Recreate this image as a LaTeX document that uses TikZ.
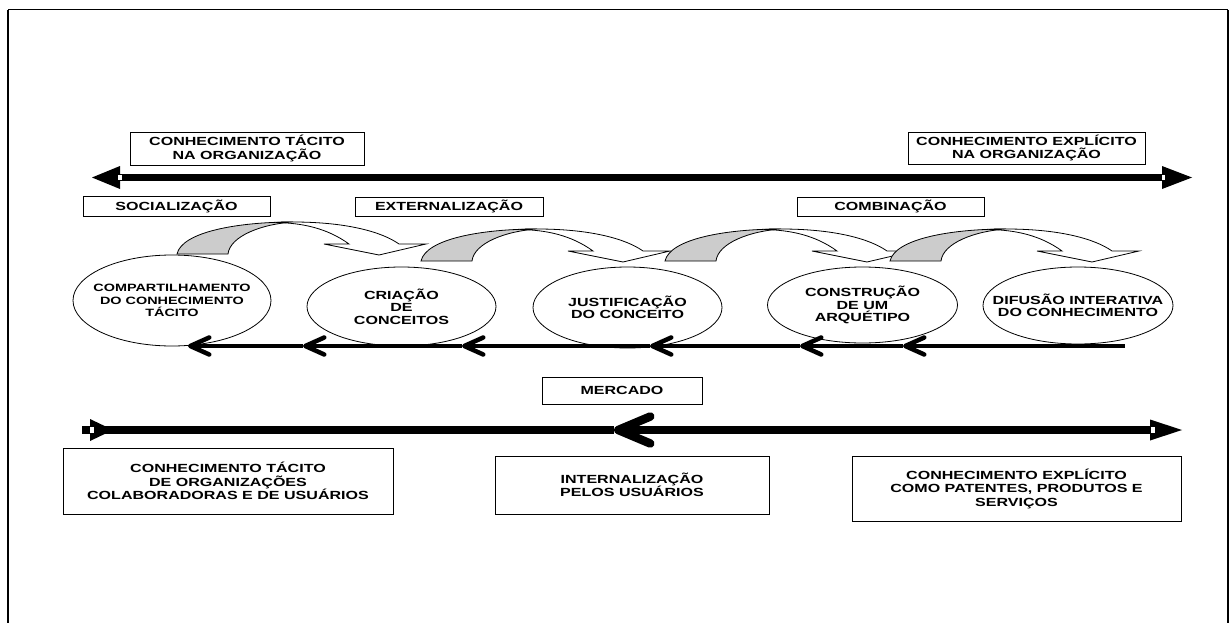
\documentclass[tikz,border=0pt]{standalone}
\usepackage{fontspec}
\setmainfont{Liberation Sans}[FakeStretch=1.36]
\usetikzlibrary{arrows.meta,shapes.geometric}
\tikzset{
	labelbox/.style={draw, line width=0.8pt, inner sep=0pt, align=center, font=\bfseries\fontsize{11.8}{13.5}\selectfont},
	phase/.style={draw, ellipse, line width=0.8pt, inner sep=0pt},
	phasetext/.style={align=center, inner sep=0pt, font=\bfseries\fontsize{11.8}{12.5}\selectfont},
	axisline/.style={line width=7pt},
	flow/.style={line width=4.5pt, -{Straight Barb[length=19pt, width=17pt, round]}},
	turnarrow/.pic={
		\fill[gray!40, draw=black, line width=0.8pt] (0,0) .. controls (5,-22) and (60,-32) .. (116,-32)
			.. controls (85,-30) and (53,-18) .. (51,0) -- cycle;
		\filldraw[fill=white, line width=0.8pt] (99,-31.5) .. controls (105,-32) .. (116,-32)
			.. controls (170,-32) and (205,-22) .. (222,-10) -- (249,-10) -- (202,1) -- (147,-10) -- (172,-10)
			.. controls (150,-26) and (125,-31) .. (99,-31.5) -- cycle;
	}
}

\begin{document}
\begin{tikzpicture}[x=1pt, y=-1pt]
	\useasboundingbox (0,0) rectangle (1230,623);
	\draw[line width=1pt]   (8,10) -- (1228,10);
	\draw[line width=2.5pt] (8,10) -- (8,623) (1228,10) -- (1228,623);

	\node[labelbox, minimum width=234pt, minimum height=33pt] (tacito)    at (247,148.5)  {CONHECIMENTO TÁCITO\\NA ORGANIZAÇÃO};
	\node[labelbox, minimum width=237pt, minimum height=32pt] (explicito) at (1026.5,148) {CONHECIMENTO EXPLÍCITO\\NA ORGANIZAÇÃO};

	\coordinate (tl) at (92,177.5);
	\coordinate (tr) at (1192,177.5);
	\draw[axisline, {Triangle[length=28pt, width=23pt, line width=0pt]}-{Triangle[length=30pt, width=23pt, line width=0pt]}] (tl) -- (tr);
	\fill[white] (118,175) rectangle (121.5,180);
	\fill[white] (1161.5,175) rectangle (1165,180);

	\node[labelbox, minimum width=187pt, minimum height=20pt] (social) at (176.5,206) {SOCIALIZAÇÃO};
	\node[labelbox, minimum width=188pt, minimum height=19pt] (extern) at (449,206.5) {EXTERNALIZAÇÃO};
	\node[labelbox, minimum width=187pt, minimum height=19pt] (combin) at (890.5,206.5) {COMBINAÇÃO};

	\node[phase, minimum width=198pt, minimum height=91pt] (e1) at (172,300.5)  {};
	\node[phase, minimum width=189pt, minimum height=79pt] (e2) at (401.5,306.5) {};
	\node[phase, minimum width=189pt, minimum height=81pt] (e3) at (627.5,307.5) {};
	\node[phase, minimum width=190pt, minimum height=76pt] (e4) at (862.5,305)  {};
	\node[phase, minimum width=190pt, minimum height=77pt] (e5) at (1078,305.5)  {};
	\node[phasetext, font=\bfseries\fontsize{10.6}{12.5}\selectfont] (t1) at (e1) {COMPARTILHAMENTO\\DO CONHECIMENTO\\TÁCITO};
	\node[phasetext] (t2) at (e2) {CRIAÇÃO\\DE\\CONCEITOS};
	\node[phasetext] (t3) at (e3) {JUSTIFICAÇÃO\\DO CONCEITO};
	\node[phasetext] (t4) at (e4) {CONSTRUÇÃO\\DE UM\\ARQUÉTIPO};
	\node[phasetext] (t5) at (e5) {DIFUSÃO INTERATIVA\\DO CONHECIMENTO};

	\coordinate (r0) at (1125,346);
	\coordinate (r1) at (903,346);
	\coordinate (r2) at (800,346);
	\coordinate (r3) at (650,346);
	\coordinate (r4) at (462,346);
	\coordinate (r5) at (303,346);
	\coordinate (r6) at (188,346);
	\foreach \from/\to in {r0/r1, r1/r2, r2/r3, r3/r4, r4/r5, r5/r6}
		\draw[flow] (\from) -- (\to);

	\coordinate (a1) at (177,254);
	\coordinate (a2) at (421,261);
	\coordinate (a3) at (665,261);
	\coordinate (a4) at (890,261);
	\foreach \at in {a1, a2, a3, a4}
		\pic at (\at) {turnarrow};

	\node[labelbox, minimum width=160pt, minimum height=27pt] (mercado) at (622,390.5) {MERCADO};

	\coordinate (bl)  at (82,430);
	\coordinate (blt) at (113,430);
	\coordinate (bm)  at (614,430);
	\coordinate (br)  at (1182,430);
	\draw[axisline, line width=8.5pt] (bl) -- (bm);
	\draw[axisline, line width=8.5pt, -{Triangle[length=23pt, width=22pt, line width=0pt]}] (bl) -- (blt);
	\draw[axisline, line width=8.5pt, {Straight Barb[length=32pt, width=27pt, round]}-{Triangle[length=32pt, width=21pt, line width=0pt]}] (bm) -- (br);
	\fill[white] (90,427) rectangle (94,433);
	\fill[white] (1151,427) rectangle (1155,433);

	\node[labelbox, minimum width=330pt, minimum height=66pt] (usuarios) at (228,481)    {CONHECIMENTO TÁCITO\\DE ORGANIZAÇÕES\\COLABORADORAS E DE USUÁRIOS};
	\node[labelbox, minimum width=274pt, minimum height=58pt] (intern)   at (632,485)    {INTERNALIZAÇÃO\\PELOS USUÁRIOS};
	\node[labelbox, minimum width=329pt, minimum height=65pt] (patentes) at (1016.5,488.5) {CONHECIMENTO EXPLÍCITO\\COMO PATENTES, PRODUTOS E\\SERVIÇOS};
\end{tikzpicture}
\end{document}
